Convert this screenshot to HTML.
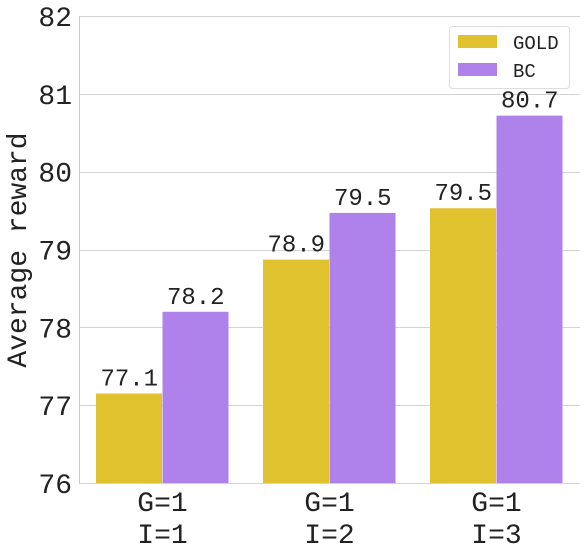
<!DOCTYPE html>
<html><head><meta charset="utf-8"><style>
body{margin:0;background:#fff;}
svg text{font-family:"Liberation Mono","DejaVu Sans Mono",monospace;fill:#222;}
</style></head><body>
<svg id="chart" width="586" height="554" xmlns="http://www.w3.org/2000/svg">
<g id="grid"></g>
<g id="bars"></g>
<line x1="79.5" y1="16" x2="79.5" y2="483" stroke="#ccc" stroke-width="1"/>
<text x="26" y="250" font-size="28" text-anchor="middle" transform="rotate(-90 26 250)">Average reward</text>
<g>
<rect x="449.5" y="26.5" width="120" height="62" rx="3" fill="#fff" stroke="#ddd"/>
<rect x="458" y="35" width="39" height="13" fill="#e0c22e"/>
<text x="513" y="49" font-size="19">GOLD</text>
<rect x="458" y="63" width="39" height="13" fill="#ae81eb"/>
<text x="513" y="77" font-size="19">BC</text>
</g>
</svg>
<script>
const categories1=["G=1","G=1","G=1"];
const categories2=["I=1","I=2","I=3"];
const goldValues=[77.15,78.87,79.53];
const bcValues=[78.2,79.47,80.72];
const goldLabels=["77.1","78.9","79.5"];
const bcLabels=["78.2","79.5","80.7"];
const yTicks=[76,77,78,79,80,81,82];
const NS="http://www.w3.org/2000/svg";
const y=v=>483-(v-76)*(467/6);
const xg=i=>96+i*167;
const bw=66.5;
function mk(t,a,p){const e=document.createElementNS(NS,t);for(const k in a)e.setAttribute(k,a[k]);p.appendChild(e);return e;}
const grid=document.getElementById('grid'),bars=document.getElementById('bars'),svg=document.getElementById('chart');
yTicks.forEach(v=>{
 const l=mk('line',{x1:79,x2:580,y1:Math.round(y(v))+0.5,y2:Math.round(y(v))+0.5,stroke:'#d4d4d4'},grid);
 
 
 const t=mk('text',{x:72,y:y(v)+10,'font-size':28,'text-anchor':'end'},svg);
 t.textContent=v;
 
 
});
categories1.forEach((c,i)=>{
 [[goldValues,goldLabels,'#e0c22e','gold',0],[bcValues,bcLabels,'#ae81eb','bc',1]].forEach(([vals,labs,col,nm,k])=>{
  const x=xg(i)+k*bw;
  const r=mk('rect',{x:x,y:y(vals[i]),width:bw-0.5,height:483-y(vals[i]),fill:col},bars);
  
  
  const t=mk('text',{x:x+bw/2,y:y(vals[i])-8,'font-size':24,'text-anchor':'middle'},svg);
  t.textContent=labs[i];
  
  
 });
 const t1=mk('text',{x:xg(i)+bw,y:511,'font-size':28,'text-anchor':'middle'},svg);
 t1.textContent=c;
 
 
 const t2=mk('text',{x:xg(i)+bw,y:543,'font-size':28,'text-anchor':'middle'},svg);
 t2.textContent=categories2[i];
 
 
});
</script>
</body></html>
